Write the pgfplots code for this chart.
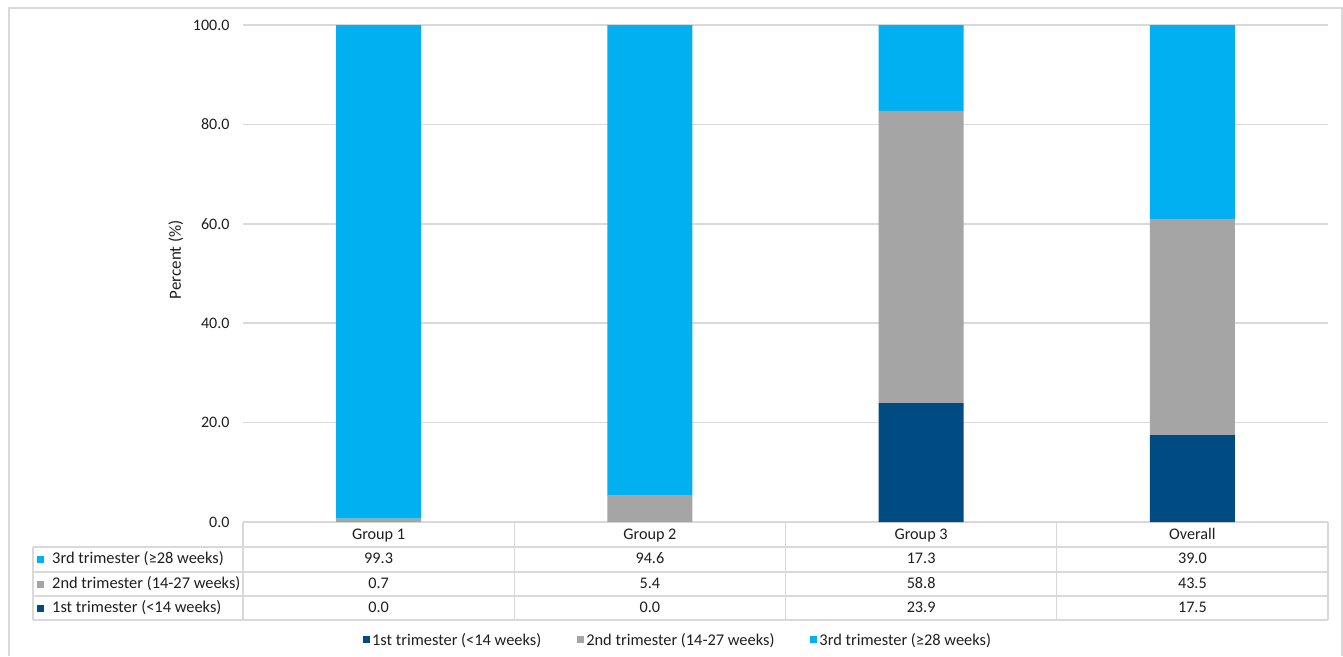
\documentclass[border=0pt]{standalone}
\usepackage{pgfplots}
\pgfplotsset{compat=1.18}
\usepackage{fontspec}
\setmainfont{Carlito}
\definecolor{c1}{RGB}{0,75,130}
\definecolor{c2}{RGB}{165,165,165}
\definecolor{c3}{RGB}{0,176,240}
\definecolor{gl}{RGB}{217,217,217}
\definecolor{tx}{RGB}{30,30,30}
\begin{document}
\begin{tikzpicture}
\path[use as bounding box] (0pt,0pt) rectangle (1343pt,-656pt);
\begin{axis}[
  at={(243pt,-522pt)}, anchor=south west,
  scale only axis, width=1085pt, height=497pt,
  ybar stacked, bar width=85pt,
  xmin=-0.5, xmax=3.5, ymin=0, ymax=100,
  xtick=\empty, ytick={0,20,...,100},
  ymajorgrids, grid style={gl, line width=1.5pt},
  axis line style={draw=none}, major tick length=0pt,
  yticklabel style={font=\fontsize{16}{18}\selectfont, text=tx, xshift=-10pt,
    /pgf/number format/fixed, /pgf/number format/fixed zerofill,
    /pgf/number format/precision=1, /pgf/number format/assume math mode=true},
  ylabel={Percent (\%)},
  ylabel style={at={(axis description cs:-0.062,0.528)}, anchor=center, rotate=0,
    font=\fontsize{17}{19}\selectfont, text=tx},
  legend style={at={(0.401,-0.2374)}, anchor=center, draw=none, fill=none,
    legend columns=3, font=\fontsize{16.4}{18}\selectfont, text=tx,
    /tikz/every even column/.append style={column sep=34pt}},
  legend image code/.code={\fill[#1] (0pt,-3.5pt) rectangle (7pt,3.5pt);},
]
\addplot[fill=c1, draw=none] coordinates {(0,0) (1,0) (2,23.9) (3,17.5)};
\addplot[fill=c2, draw=none] coordinates {(0,0.7) (1,5.4) (2,58.8) (3,43.5)};
\addplot[fill=c3, draw=none] coordinates {(0,99.3) (1,94.6) (2,17.3) (3,39.0)};
\legend{1st trimester (<14 weeks), 2nd trimester (14-27 weeks), 3rd trimester (≥28 weeks)}
\end{axis}
\begin{scope}[x=1pt,y=-1pt]
\draw[gl, line width=1.3pt] (9,656) -- (9,8) -- (1342,8) -- (1342,656);
\foreach \xx in {243,514.25,785.5,1056.75,1328}{
  \draw[gl, line width=1.3pt] (\xx,522) -- (\xx,620);
}
\foreach \yy in {547,572,596,620}{
  \draw[gl, line width=1.3pt] (33,\yy) -- (1328,\yy);
}
\draw[gl, line width=1.3pt] (33,547) -- (33,620);
\tikzset{tt/.style={font=\fontsize{16.2}{18}\selectfont, text=tx, inner sep=0pt, text height=11.5pt, text depth=3.5pt}}
\foreach \cx/\g in {378.6/Group 1, 649.9/Group 2, 921.1/Group 3, 1192.4/Overall}{
  \node[tt] at (\cx,535) {\g};
}
\foreach \cx/\a/\b/\c in {378.6/99.3/0.7/0.0, 649.9/94.6/5.4/0.0, 921.1/17.3/58.8/23.9, 1192.4/39.0/43.5/17.5}{
  \node[tt] at (\cx,559.5) {\a};
  \node[tt] at (\cx,584) {\b};
  \node[tt] at (\cx,608) {\c};
}
\fill[c3] (37,556) rectangle (44,563);
\fill[c2] (37,580.5) rectangle (44,587.5);
\fill[c1] (37,604.5) rectangle (44,611.5);
\node[tt, anchor=west, font=\fontsize{16.4}{18}\selectfont] at (52,559.5) {3rd trimester (≥28 weeks)};
\node[tt, anchor=west, font=\fontsize{16.4}{18}\selectfont] at (52,584) {2nd trimester (14-27 weeks)};
\node[tt, anchor=west, font=\fontsize{16.4}{18}\selectfont] at (52,608) {1st trimester (<14 weeks)};
\end{scope}
\end{tikzpicture}
\end{document}
